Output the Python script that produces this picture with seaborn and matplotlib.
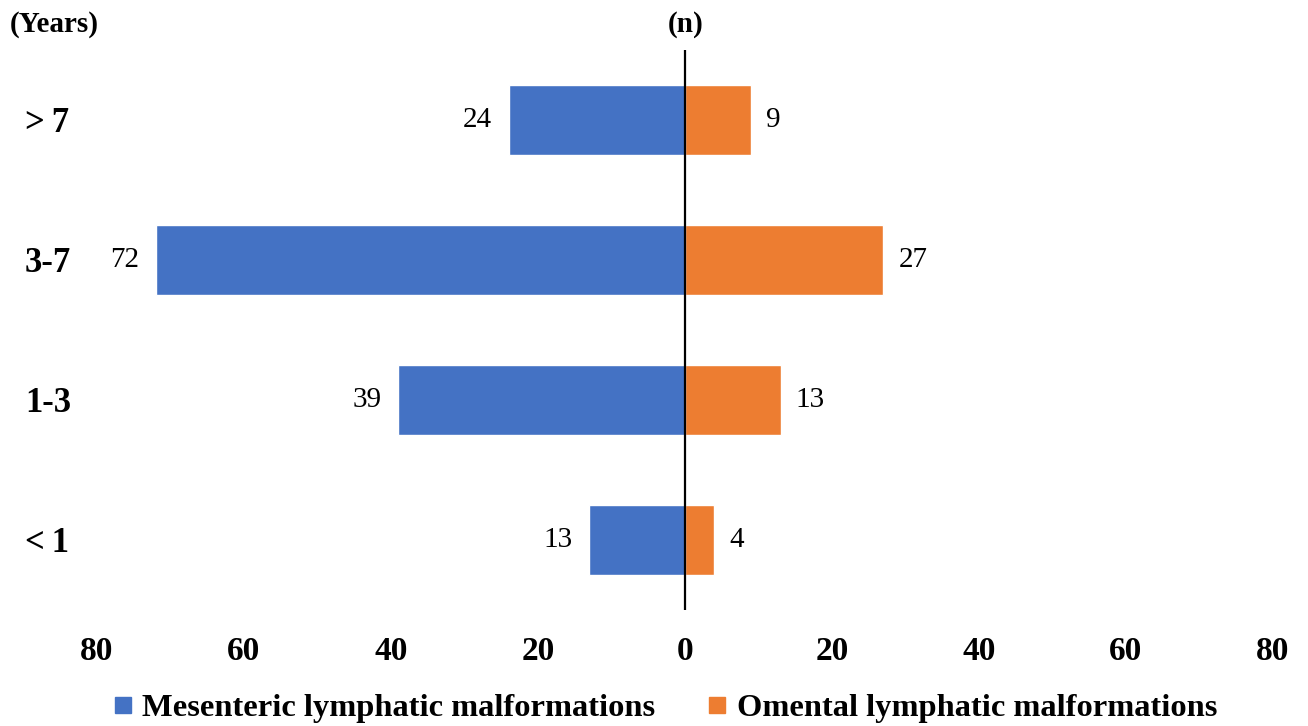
import matplotlib
matplotlib.use("Agg")
import matplotlib.pyplot as plt
from matplotlib.ticker import FuncFormatter
from matplotlib.lines import Line2D
import seaborn as sns
import pandas as pd

# Age groups (top to bottom) and case counts per malformation site
age_groups = [">\u20097", "3-7", "1-3", "<\u20091"]
mesenteric = [24, 72, 39, 13]
omental = [9, 27, 13, 4]
series_names = ["Mesenteric lymphatic malformations", "Omental lymphatic malformations"]
x_ticks = [-80, -60, -40, -20, 0, 20, 40, 60, 80]

colors = {series_names[0]: "#4472C4", series_names[1]: "#ED7D31"}

sns.set_theme(style="white")
plt.rcParams["font.family"] = ["Liberation Serif", "DejaVu Serif"]
plt.rcParams["text.color"] = "black"
plt.rcParams["xtick.color"] = "black"
plt.rcParams["ytick.color"] = "black"

# Long-format table: mesenteric counts go to the left (negative side)
rows = []
for g, m, o in zip(age_groups, mesenteric, omental):
    rows.append({"age": g, "count": -m, "site": series_names[0]})
    rows.append({"age": g, "count": o, "site": series_names[1]})
df = pd.DataFrame(rows)

fig = plt.figure(figsize=(13.08, 7.26), dpi=100)
ax = fig.add_axes([97 / 1308, 1 - 610 / 726, (1273 - 97) / 1308, 560 / 726])

sns.barplot(data=df, y="age", x="count", hue="site", order=age_groups,
            hue_order=series_names, palette=colors, dodge=False, width=0.5,
            orient="h", ax=ax, legend=False, saturation=1)

ax.set_xlim(-80, 80)
ax.set_ylim(3.5, -0.5)
ax.axvline(0, color="black", lw=1.6, zorder=5)

for s in ax.spines.values():
    s.set_visible(False)

ax.set_xticks(x_ticks)
ax.xaxis.set_major_formatter(FuncFormatter(lambda v, p: f"{abs(int(v))}"))
ax.tick_params(axis="x", length=0, pad=19, labelsize=24, labelcolor="black")
for lbl in ax.get_xticklabels():
    lbl.set_fontweight("bold")

ax.tick_params(axis="y", length=0, pad=52, labelsize=25, labelcolor="black")
for lbl in ax.get_yticklabels():
    lbl.set_fontweight("bold")
    lbl.set_horizontalalignment("left")

ax.set_xlabel("")
ax.set_ylabel("")

# Value labels beside each bar end
for i, (m, o) in enumerate(zip(mesenteric, omental)):
    ax.annotate(f"{m}", xy=(-m, i), xytext=(-12, 0), textcoords="offset points",
                ha="right", va="center", fontsize=21, color="black")
    ax.annotate(f"{o}", xy=(o, i), xytext=(11, 0), textcoords="offset points",
                ha="left", va="center", fontsize=21, color="black")

# Axis captions at the top
fig.text(10 / 1308, 1 - 25 / 726, "(Years)", ha="left", va="center",
         fontsize=21, fontweight="bold", color="black")
fig.text(686 / 1308, 1 - 25 / 726, "(n)", ha="center", va="center",
         fontsize=21, fontweight="bold", color="black")

handles = [Line2D([0], [0], marker="s", linestyle="none", markersize=11,
                  markerfacecolor=colors[n], markeredgecolor=colors[n])
           for n in series_names]
fig.legend(handles, series_names, loc="center", bbox_to_anchor=(665 / 1308, 1 - 708 / 726),
           ncol=2, frameon=False, prop={"size": 23.4, "weight": "bold"},
           handlelength=0.6, handletextpad=0.3, columnspacing=1.6, borderaxespad=0)

fig.savefig("out.png", dpi=100)
